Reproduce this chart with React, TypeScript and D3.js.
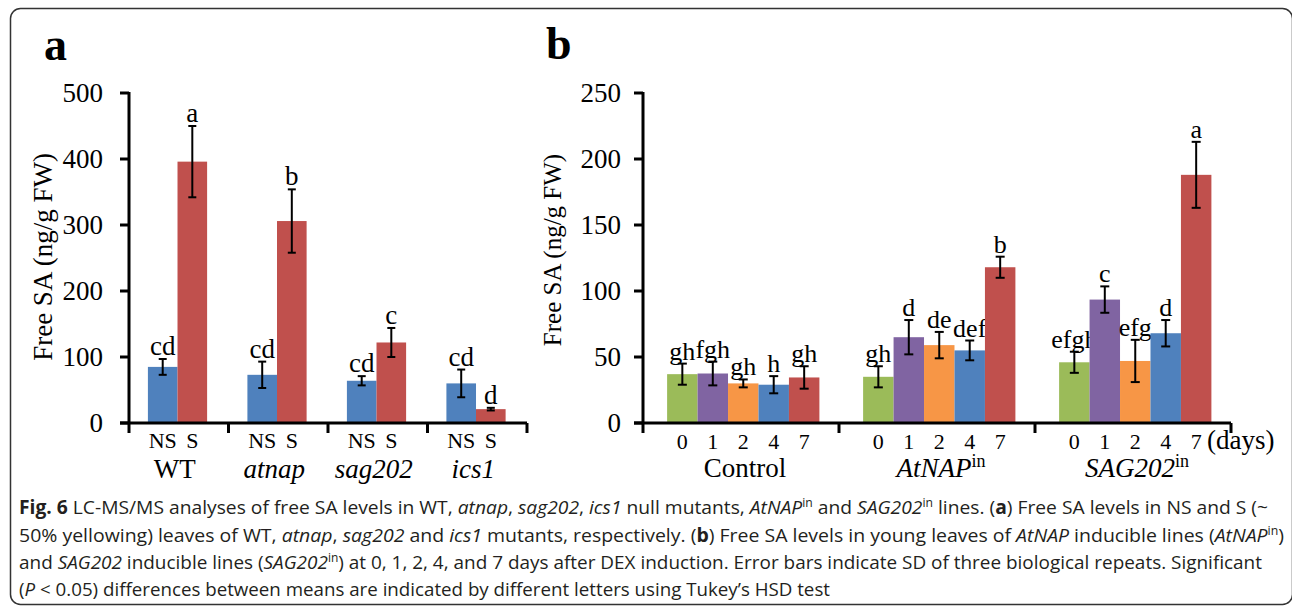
import React from 'react';
import * as d3 from 'd3';

// panel a: free SA in NS / S leaves
const groupsA = ['WT', 'atnap', 'sag202', 'ics1'];
const italicA = [false, true, true, true];
const seriesA = ['NS', 'S'];
const valuesNS = [85, 73, 64, 60];
const errNS = [12, 20, 7, 21];
const valuesS = [396, 306, 122, 21];
const errS = [54, 48, 22, 2];
const lettersNS = ['cd', 'cd', 'cd', 'cd'];
const lettersS = ['a', 'b', 'c', 'd'];
const ticksA = [0, 100, 200, 300, 400, 500];

// panel b: inducible lines over days after DEX
const groupsB = ['Control', 'AtNAP', 'SAG202'];
const supB = ['', 'in', 'in'];
const days = ['0', '1', '2', '4', '7'];
const valuesControl = [37, 37.5, 30, 29, 34.5];
const errControl = [8, 9, 3, 6.5, 8.5];
const lettersControl = ['gh', 'fgh', 'gh', 'h', 'gh'];
const valuesAtNAP = [35, 65, 59, 55, 118];
const errAtNAP = [8, 13, 10, 7.5, 8];
const lettersAtNAP = ['gh', 'd', 'de', 'def', 'b'];
const valuesSAG = [46, 93.5, 47, 68, 188];
const errSAG = [8, 10, 16, 10, 25];
const lettersSAG = ['efgh', 'c', 'efg', 'd', 'a'];
const ticksB = [0, 50, 100, 150, 200, 250];

const colorsA = ['#4F81BD', '#C0504D'];
const colorsB = ['#9BBB59', '#8064A2', '#F79646', '#4F81BD', '#C0504D'];

const serif = '"Liberation Serif", "Times New Roman", serif';
const sans = '"Open Sans", "Noto Sans", sans-serif';

const ErrorBar = ({ x, lo, hi, cap }: any) => (
  <g stroke="#000" strokeWidth={2}>
    <line x1={x} x2={x} y1={lo} y2={hi} />
    <line x1={x - cap} x2={x + cap} y1={lo} y2={lo} />
    <line x1={x - cap} x2={x + cap} y1={hi} y2={hi} />
  </g>
);

const PanelA = () => {
  const y = d3.scaleLinear().domain([0, 500]).range([423, 93]);
  const x = d3.scaleBand().domain(groupsA).range([129, 527]);
  const bw = x.bandwidth();
  const xs = d3.scaleBand().domain(seriesA).range([bw * 0.19, bw * 0.785]);
  const data = [
    { v: valuesNS, e: errNS, l: lettersNS },
    { v: valuesS, e: errS, l: lettersS },
  ];
  return (
    <g fontFamily={serif} fill="#000">
      <text x={44} y={60} fontSize={46} fontWeight="bold">a</text>
      {groupsA.map((g, i) =>
        data.map((d, si) => {
          const bx = (x(g) as number) + (xs(seriesA[si]) as number);
          const cx = bx + xs.bandwidth() / 2;
          const top = y(d.v[i] + d.e[i]);
          return (
            <g key={g + si}>
              <rect x={bx} y={y(d.v[i])} width={xs.bandwidth()} height={y(0) - y(d.v[i])} fill={colorsA[si]} />
              <ErrorBar x={cx} lo={top} hi={y(d.v[i] - d.e[i])} cap={4} />
              <text x={cx} y={top - 4} fontSize={27} textAnchor="middle">{d.l[i]}</text>
              <text x={cx} y={448} fontSize={22} textAnchor="middle">{seriesA[si]}</text>
            </g>
          );
        })
      )}
      {groupsA.map((g, i) => (
        <text key={g} x={(x(g) as number) + bw / 2 - 4} y={478} fontSize={27} textAnchor="middle" fontStyle={italicA[i] ? 'italic' : 'normal'}>{g}</text>
      ))}
      <g stroke="#000" strokeWidth={3}>
        <line x1={129} x2={129} y1={y(500) - 1} y2={y(0)} />
        <line x1={120} x2={527} y1={y(0)} y2={y(0)} />
        {ticksA.map(t => <line key={t} x1={120} x2={129} y1={y(t)} y2={y(t)} />)}
        {[...groupsA.map(g => x(g) as number), 527].map(v => <line key={v} x1={v} x2={v} y1={y(0)} y2={y(0) + 10} />)}
      </g>
      {ticksA.map(t => <text key={t} x={103} y={y(t) + 9} fontSize={27} textAnchor="end">{t}</text>)}
      <text transform="translate(52,257) rotate(-90)" fontSize={27} textAnchor="middle">Free SA (ng/g FW)</text>
    </g>
  );
};

const PanelB = () => {
  const y = d3.scaleLinear().domain([0, 250]).range([423, 93]);
  const x = d3.scaleBand().domain(groupsB).range([643, 1231]);
  const bw = x.bandwidth();
  const xs = d3.scaleBand().domain(days).range([bw * 0.123, bw * 0.9]);
  const rows = [
    { v: valuesControl, e: errControl, l: lettersControl },
    { v: valuesAtNAP, e: errAtNAP, l: lettersAtNAP },
    { v: valuesSAG, e: errSAG, l: lettersSAG },
  ];
  return (
    <g fontFamily={serif} fill="#000">
      <text x={546} y={59} fontSize={46} fontWeight="bold">b</text>
      {groupsB.map((g, gi) =>
        days.map((d, di) => {
          const r = rows[gi];
          const bx = (x(g) as number) + (xs(d) as number);
          const cx = bx + xs.bandwidth() / 2;
          const top = y(r.v[di] + r.e[di]);
          return (
            <g key={g + d}>
              <rect x={bx} y={y(r.v[di])} width={xs.bandwidth()} height={y(0) - y(r.v[di])} fill={colorsB[di]} />
              <ErrorBar x={cx} lo={top} hi={y(r.v[di] - r.e[di])} cap={4.5} />
              <text x={cx} y={top - 4} fontSize={26} textAnchor="middle">{r.l[di]}</text>
              <text x={cx} y={449} fontSize={22} textAnchor="middle">{d}</text>
            </g>
          );
        })
      )}
      <text x={1207} y={449} fontSize={27}>(days)</text>
      {groupsB.map((g, gi) => (
        <text key={g} x={(x(g) as number) + bw / 2 + 4} y={477} fontSize={27} textAnchor="middle">
          <tspan fontStyle={gi > 0 ? 'italic' : 'normal'}>{g}</tspan>
          {supB[gi] && <tspan fontSize={18} baselineShift="10">{supB[gi]}</tspan>}
        </text>
      ))}
      <g stroke="#000" strokeWidth={3}>
        <line x1={643} x2={643} y1={y(250) - 1} y2={y(0)} />
        <line x1={634} x2={1231} y1={y(0)} y2={y(0)} />
        {ticksB.map(t => <line key={t} x1={634} x2={643} y1={y(t)} y2={y(t)} />)}
        {[...groupsB.map(g => x(g) as number), 1231].map(v => <line key={v} x1={v} x2={v} y1={y(0)} y2={y(0) + 10} />)}
      </g>
      {ticksB.map(t => <text key={t} x={621} y={y(t) + 9} fontSize={27} textAnchor="end">{t}</text>)}
      <text transform="translate(561,250) rotate(-90)" fontSize={25} textAnchor="middle">Free SA (ng/g FW)</text>
    </g>
  );
};

const Caption = () => {
  const it = (s: string) => <tspan fontStyle="italic">{s}</tspan>;
  const b = (s: string) => <tspan fontWeight="bold">{s}</tspan>;
  const sup = (s: string) => <tspan fontSize={12} baselineShift="7">{s}</tspan>;
  const common = { x: 19, fontSize: 19, lengthAdjust: 'spacingAndGlyphs' as const };
  return (
    <g fontFamily={sans} fill="#231F20">
      <text {...common} y={514} textLength={1249}>
        {b('Fig. 6')} LC-MS/MS analyses of free SA levels in WT, {it('atnap')}, {it('sag202')}, {it('ics1')} null mutants, {it('AtNAP')}{sup('in')} and {it('SAG202')}{sup('in')} lines. ({b('a')}) Free SA levels in NS and S (~
      </text>
      <text {...common} y={542} textLength={1265}>
        50% yellowing) leaves of WT, {it('atnap')}, {it('sag202')} and {it('ics1')} mutants, respectively. ({b('b')}) Free SA levels in young leaves of {it('AtNAP')} inducible lines ({it('AtNAP')}{sup('in')})
      </text>
      <text {...common} y={569} textLength={1243}>
        and {it('SAG202')} inducible lines ({it('SAG202')}{sup('in')}) at 0, 1, 2, 4, and 7 days after DEX induction. Error bars indicate SD of three biological repeats. Significant
      </text>
      <text {...common} y={596} textLength={811}>
        ({it('P')} {'<'} 0.05) differences between means are indicated by different letters using Tukey’s HSD test
      </text>
    </g>
  );
};

export default function App() {
  return (
    <svg width={1292} height={607} style={{ position: 'absolute', left: 0, top: 0, background: '#fff' }}>
      <rect x={0} y={0} width={1292} height={607} fill="#fff" />
      <rect x={10.5} y={8.5} width={1282} height={596} rx={10} fill="none" stroke="#333" strokeWidth={1.5} />
      <PanelA />
      <PanelB />
      <Caption />
    </svg>
  );
}
